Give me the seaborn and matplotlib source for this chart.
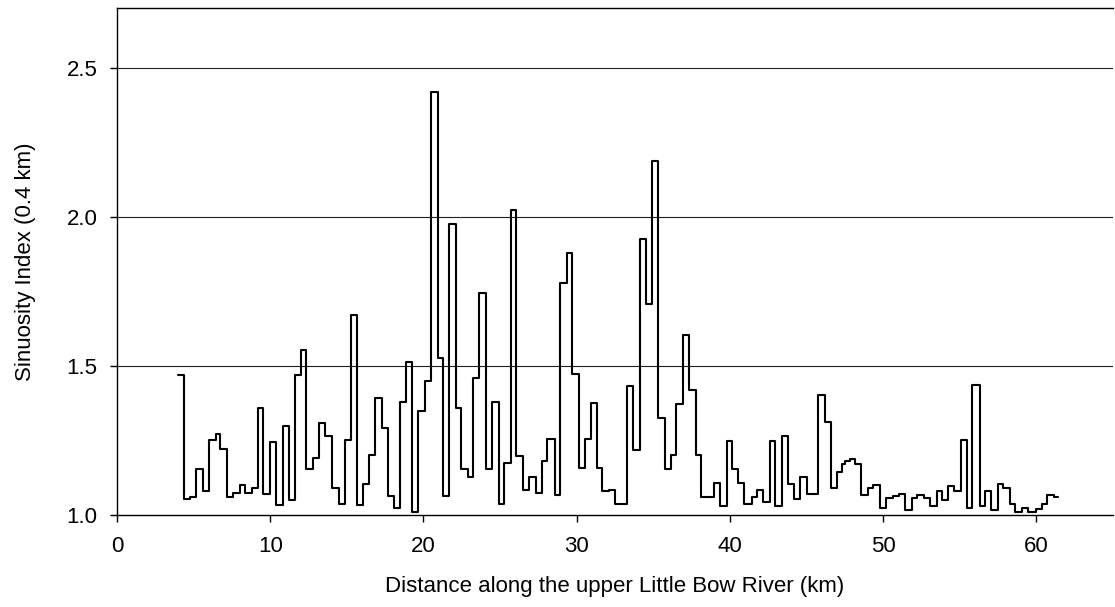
import matplotlib
matplotlib.use("Agg")
import matplotlib.pyplot as plt
import seaborn as sns
import pandas as pd

# Start of each reach (km) and its sinuosity index (0.4 km window)
reach_start_km = [
    4.0, 4.4, 4.75, 5.18, 5.6, 6.02, 6.44, 6.74, 7.2, 7.59, 8.04, 8.38, 8.82, 9.18, 9.55,
    10.0, 10.39, 10.86, 11.2, 11.61, 12.0, 12.35, 12.78, 13.18, 13.6, 14.04, 14.46, 14.86,
    15.24, 15.65, 16.04, 16.47, 16.82, 17.3, 17.66, 18.09, 18.46, 18.84, 19.28, 19.66,
    20.1, 20.47, 20.92, 21.28, 21.65, 22.1, 22.47, 22.92, 23.25, 23.64, 24.1, 24.47,
    24.92, 25.25, 25.73, 26.07, 26.51, 26.91, 27.32, 27.71, 28.06, 28.56, 28.9, 29.35,
    29.71, 30.15, 30.56, 30.94, 31.35, 31.66, 32.1, 32.53, 33.32, 33.68, 34.16, 34.5,
    34.94, 35.34, 35.75, 36.15, 36.5, 36.95, 37.34, 37.78, 38.13, 38.97, 39.35, 39.8,
    40.15, 40.55, 40.95, 41.43, 41.75, 42.19, 42.6, 42.96, 43.43, 43.78, 44.22, 44.6,
    45.01, 45.77, 46.22, 46.58, 47.02, 47.35, 47.5, 47.84, 48.17, 48.57, 49.05, 49.38,
    49.82, 50.2, 50.66, 51.02, 51.42, 51.88, 52.24, 52.65, 53.05, 53.5, 53.87, 54.26,
    54.66, 55.06, 55.48, 55.84, 56.3, 56.65, 57.08, 57.48, 57.84, 58.3, 58.63, 59.1,
    59.48, 60.01, 60.35, 60.72, 61.15, 61.4,
]
sinuosity = [
    1.47, 1.055, 1.06, 1.153, 1.08, 1.25, 1.27, 1.22, 1.06, 1.074, 1.10, 1.075, 1.09, 1.36, 1.07,
    1.245, 1.035, 1.30, 1.05, 1.47, 1.555, 1.153, 1.19, 1.31, 1.265, 1.092, 1.037, 1.25,
    1.672, 1.032, 1.103, 1.20, 1.392, 1.293, 1.063, 1.024, 1.378, 1.512, 1.011, 1.349,
    1.45, 2.42, 1.526, 1.063, 1.977, 1.36, 1.153, 1.128, 1.458, 1.745, 1.153, 1.379,
    1.036, 1.175, 2.022, 1.198, 1.085, 1.128, 1.074, 1.181, 1.254, 1.066, 1.777, 1.88,
    1.472, 1.158, 1.254, 1.374, 1.159, 1.08, 1.085, 1.037, 1.433, 1.219, 1.927, 1.706,
    2.188, 1.325, 1.155, 1.2, 1.373, 1.603, 1.42, 1.2, 1.059, 1.108, 1.031, 1.247,
    1.155, 1.108, 1.037, 1.059, 1.084, 1.043, 1.247, 1.031, 1.265, 1.104, 1.054, 1.127,
    1.07, 1.403, 1.312, 1.091, 1.145, 1.17, 1.18, 1.189, 1.17, 1.066, 1.092, 1.102,
    1.024, 1.057, 1.062, 1.072, 1.018, 1.057, 1.066, 1.057, 1.03, 1.08, 1.049, 1.098,
    1.08, 1.251, 1.024, 1.435, 1.03, 1.08, 1.018, 1.103, 1.092, 1.0375, 1.011, 1.024,
    1.011, 1.02, 1.0375, 1.067, 1.06, 1.06,
]

x_ticks = [0, 10, 20, 30, 40, 50, 60]
y_ticks = [1.0, 1.5, 2.0, 2.5]

sns.set_style("white")
plt.rcParams["font.family"] = ["Liberation Sans", "DejaVu Sans"]
plt.rcParams.update({
    "text.color": "black",
    "axes.labelcolor": "black",
    "xtick.color": "black",
    "ytick.color": "black",
})

df = pd.DataFrame({"km": reach_start_km, "si": sinuosity})

fig = plt.figure(figsize=(11.15, 6.07), dpi=100)
ax = fig.add_axes([0.105, 0.1516, 0.893, 0.835])

for yv in y_ticks[1:]:
    ax.axhline(yv, color="#222222", lw=0.8, zorder=0)

sns.lineplot(data=df, x="km", y="si", ax=ax, color="black", lw=1.5,
             estimator=None, drawstyle="steps-post")

ax.set_xlim(0, 65)
ax.set_ylim(1.0, 2.7)
ax.set_xticks(x_ticks)
ax.set_yticks(y_ticks)
ax.set_yticklabels([f"{v:.1f}" for v in y_ticks])
ax.tick_params(axis="both", direction="out", length=5, width=1, color="black",
               labelsize=16, bottom=True, left=True)
ax.tick_params(axis="x", pad=10)
ax.tick_params(axis="y", pad=9)

for s in ax.spines.values():
    s.set_color("black")
    s.set_linewidth(1.0)
ax.spines["right"].set_visible(False)

ax.set_xlabel("Distance along the upper Little Bow River (km)", fontsize=16, labelpad=14)
ax.set_ylabel("Sinuosity Index (0.4 km)", fontsize=16, labelpad=22)

fig.savefig("out.png", dpi=100)
